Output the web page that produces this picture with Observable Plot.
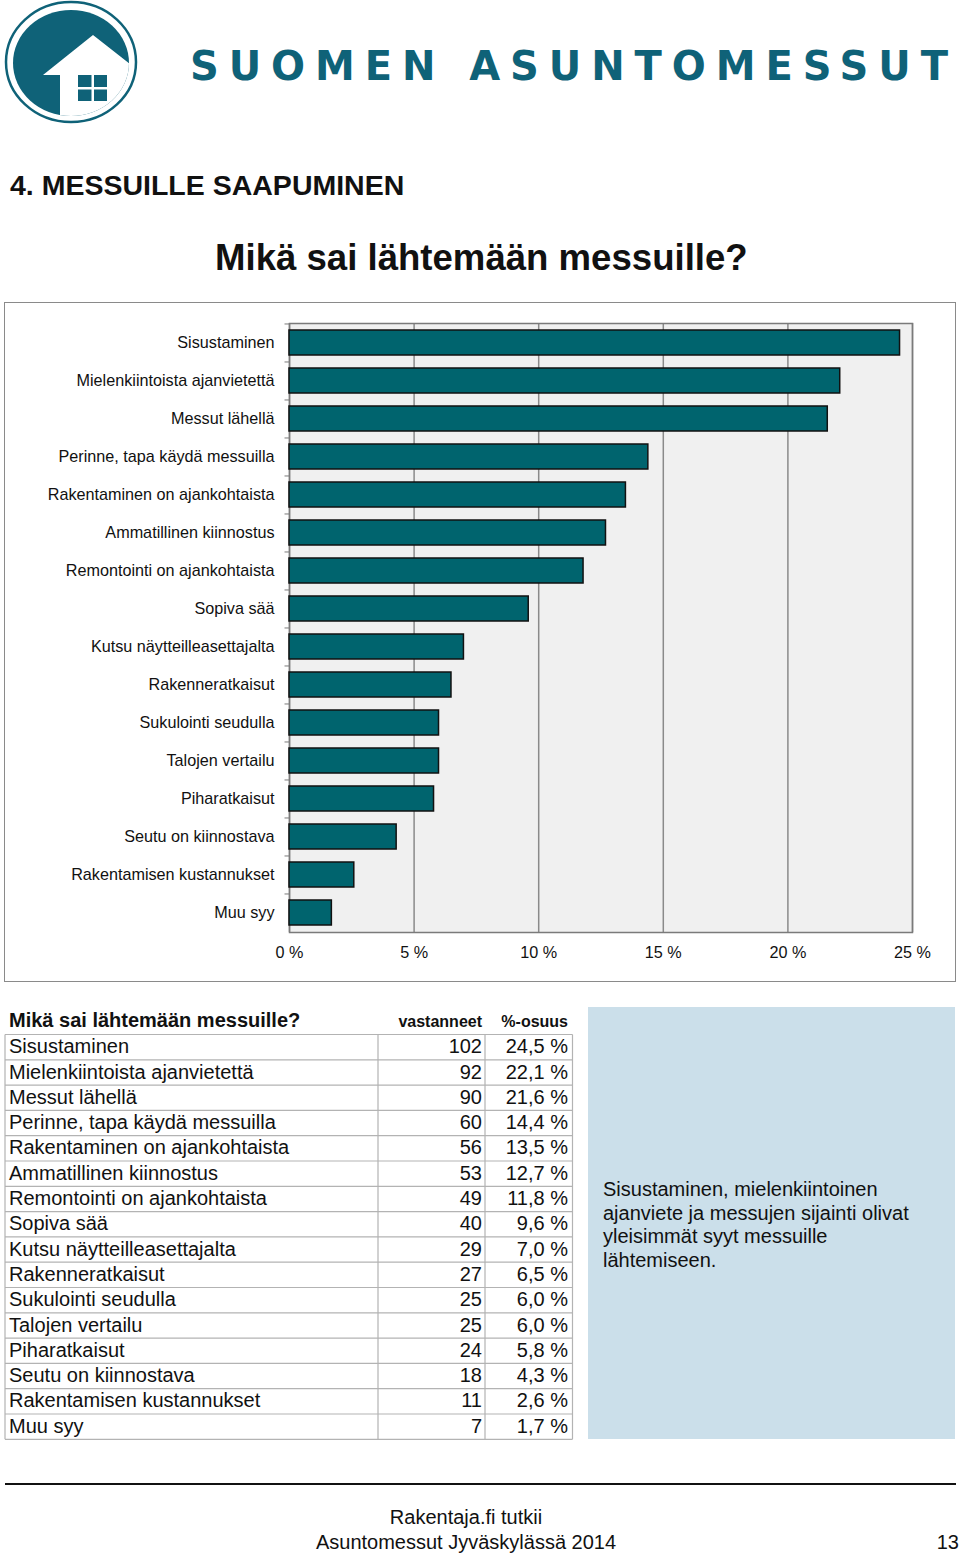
<!DOCTYPE html>
<html>
<head>
<meta charset="utf-8">
<script src="https://cdn.jsdelivr.net/npm/d3@7"></script>
<script src="https://cdn.jsdelivr.net/npm/@observablehq/plot@0.6"></script>
<style>
  html, body { margin: 0; padding: 0; background: #fff; }
  #page { position: relative; width: 960px; height: 1555px; overflow: hidden;
          font-family: "Liberation Sans", Arial, Helvetica, sans-serif; color: #111; }
  #bg { position: absolute; left: 0; top: 0; }
  #chart { position: absolute; left: 5px; top: 303px; }
  #chart svg { display: block; outline: 1.5px solid #8a8a8a; }
</style>
</head>
<body>
<div id="page">
  <svg id="bg" width="960" height="1555"></svg>
  <div id="chart"></div>
</div>
<script>
// ---------------- data ----------------
const categories = [
  "Sisustaminen",
  "Mielenkiintoista ajanvietettä",
  "Messut lähellä",
  "Perinne, tapa käydä messuilla",
  "Rakentaminen on ajankohtaista",
  "Ammatillinen kiinnostus",
  "Remontointi on ajankohtaista",
  "Sopiva sää",
  "Kutsu näytteilleasettajalta",
  "Rakenneratkaisut",
  "Sukulointi seudulla",
  "Talojen vertailu",
  "Piharatkaisut",
  "Seutu on kiinnostava",
  "Rakentamisen kustannukset",
  "Muu syy"
];
const counts = [102, 92, 90, 60, 56, 53, 49, 40, 29, 27, 25, 25, 24, 18, 11, 7];
const shares = [24.5, 22.1, 21.6, 14.4, 13.5, 12.7, 11.8, 9.6, 7.0, 6.5, 6.0, 6.0, 5.8, 4.3, 2.6, 1.7];
const xTicks = [0, 5, 10, 15, 20, 25];

const brandText = "SUOMEN ASUNTOMESSUT";
const sectionTitle = "4. MESSUILLE SAAPUMINEN";
const chartTitle = "Mikä sai lähtemään messuille?";
const tableHeader = ["Mikä sai lähtemään messuille?", "vastanneet", "%-osuus"];
const summaryLines = [
  "Sisustaminen, mielenkiintoinen",
  "ajanviete ja messujen sijainti olivat",
  "yleisimmät syyt messuille",
  "lähtemiseen."
];
const footerLines = ["Rakentaja.fi tutkii", "Asuntomessut Jyväskylässä 2014"];
const pageNumber = "13";

const fmtPct = v => v.toFixed(1).replace(".", ",") + " %";
const FONT = "'Liberation Sans', Arial, Helvetica, sans-serif";
const TEAL = "#0f6278";

// ---------------- static page layer ----------------
const bg = d3.select("#bg").attr("font-family", FONT);

// logo
const logo = bg.append("g");
logo.append("ellipse").attr("cx", 71).attr("cy", 62).attr("rx", 65).attr("ry", 60)
  .attr("fill", "#fff").attr("stroke", TEAL).attr("stroke-width", 2.5);
logo.append("clipPath").attr("id", "disc")
  .append("ellipse").attr("cx", 71).attr("cy", 63).attr("rx", 58).attr("ry", 53);
logo.append("ellipse").attr("cx", 71).attr("cy", 63).attr("rx", 58).attr("ry", 53).attr("fill", TEAL);
logo.append("path")
  .attr("clip-path", "url(#disc)")
  .attr("d", "M43,75 L93,35 L140,72 L140,140 L60,140 L60,75 Z")
  .attr("fill", "#fff");
logo.append("rect").attr("x", 78).attr("y", 75).attr("width", 29).attr("height", 26).attr("fill", TEAL);
logo.append("rect").attr("x", 91.5).attr("y", 75).attr("width", 2.5).attr("height", 26).attr("fill", "#fff");
logo.append("rect").attr("x", 78).attr("y", 87).attr("width", 29).attr("height", 2.5).attr("fill", "#fff");

bg.append("text")
  .attr("x", 190).attr("y", 80)
  .attr("textLength", 758).attr("lengthAdjust", "spacing")
  .attr("font-family", "'DejaVu Sans', Verdana, sans-serif")
  .attr("font-weight", "bold").attr("font-size", 40)
  .attr("fill", TEAL)
  .text(brandText);

// titles
bg.append("text").attr("x", 10).attr("y", 195)
  .attr("font-weight", "bold").attr("font-size", 28.5).attr("fill", "#111")
  .text(sectionTitle);
bg.append("text").attr("x", 215).attr("y", 270)
  .attr("font-weight", "bold").attr("font-size", 36.6).attr("fill", "#111")
  .text(chartTitle);

// table
const tX0 = 5, tX1 = 378, tX2 = 485, tX3 = 572.5;
const tTop = 1034.5, rowH = 25.3;
const tBottom = tTop + rowH * categories.length;
const tbl = bg.append("g");
tbl.append("text").attr("x", 9).attr("y", 1027)
  .attr("font-weight", "bold").attr("font-size", 20).attr("fill", "#111")
  .text(tableHeader[0]);
tbl.append("text").attr("x", 482).attr("y", 1027).attr("text-anchor", "end")
  .attr("font-weight", "bold").attr("font-size", 16).attr("fill", "#111")
  .text(tableHeader[1]);
tbl.append("text").attr("x", 568).attr("y", 1027).attr("text-anchor", "end")
  .attr("font-weight", "bold").attr("font-size", 16).attr("fill", "#111")
  .text(tableHeader[2]);
d3.range(categories.length + 1).forEach(i => {
  tbl.append("line").attr("x1", tX0).attr("x2", tX3)
    .attr("y1", tTop + i * rowH).attr("y2", tTop + i * rowH)
    .attr("stroke", "#b3b3b3").attr("stroke-width", 1.2);
});
[tX0, tX1, tX2, tX3].forEach(x => {
  tbl.append("line").attr("x1", x).attr("x2", x)
    .attr("y1", tTop).attr("y2", tBottom)
    .attr("stroke", "#b3b3b3").attr("stroke-width", 1.2);
});
categories.forEach((c, i) => {
  const base = tTop + i * rowH + 18.7;
  tbl.append("text").attr("x", 9).attr("y", base).attr("font-size", 20).attr("fill", "#111").text(c);
  tbl.append("text").attr("x", 482).attr("y", base).attr("text-anchor", "end")
    .attr("font-size", 20).attr("fill", "#111").text(counts[i]);
  tbl.append("text").attr("x", 568).attr("y", base).attr("text-anchor", "end")
    .attr("font-size", 20).attr("fill", "#111").text(fmtPct(shares[i]));
});

// summary box
bg.append("rect").attr("x", 588).attr("y", 1007).attr("width", 367).attr("height", 432)
  .attr("fill", "#cbdfea");
summaryLines.forEach((s, i) => {
  bg.append("text").attr("x", 603).attr("y", 1196 + i * 23.5)
    .attr("font-size", 20).attr("fill", "#111").text(s);
});

// footer
bg.append("line").attr("x1", 5).attr("x2", 956).attr("y1", 1484).attr("y2", 1484)
  .attr("stroke", "#111").attr("stroke-width", 2);
footerLines.forEach((s, i) => {
  bg.append("text").attr("x", 466).attr("y", 1524 + i * 25).attr("text-anchor", "middle")
    .attr("font-size", 20).attr("fill", "#111").text(s);
});
bg.append("text").attr("x", 959).attr("y", 1549).attr("text-anchor", "end")
  .attr("font-size", 20).attr("fill", "#111").text(pageNumber);

// ---------------- chart ----------------
const W = 950, H = 678, mL = 284, mR = 43, mT = 20, mB = 49;
const step = (H - mT - mB) / categories.length;
const data = categories.map((c, i) => ({label: c, share: shares[i], count: counts[i]}));

const chart = Plot.plot({
  width: W, height: H,
  marginLeft: mL, marginRight: mR, marginTop: mT, marginBottom: mB,
  style: {fontFamily: FONT, fontSize: "16.2px", color: "#111", background: "#fff", overflow: "visible"},
  x: {domain: [0, 25], ticks: xTicks, tickFormat: d => d + " %", tickSize: 0, tickPadding: 14, label: null},
  y: {domain: categories, paddingInner: 0.34, paddingOuter: 0.17, tickSize: 0, tickPadding: 15, label: null},
  marks: [
    Plot.frame({fill: "#f0f0f0", stroke: null}),
    Plot.ruleX(xTicks, {stroke: "#8a8a8a", strokeWidth: 1.5, strokeOpacity: 1}),
    Plot.frame({stroke: "#7a7a7a", strokeWidth: 1.5, strokeOpacity: 1}),
    Plot.ruleY(categories, {y: d => d, x1: -0.18, x2: 0, dy: -step / 2, stroke: "#7a7a7a", strokeOpacity: 1}),
    Plot.barX(data, {x: "share", y: "label", fill: "#00646e", stroke: "#111", strokeWidth: 1.5})
  ]
});
document.getElementById("chart").appendChild(chart);
</script>
</body>
</html>
